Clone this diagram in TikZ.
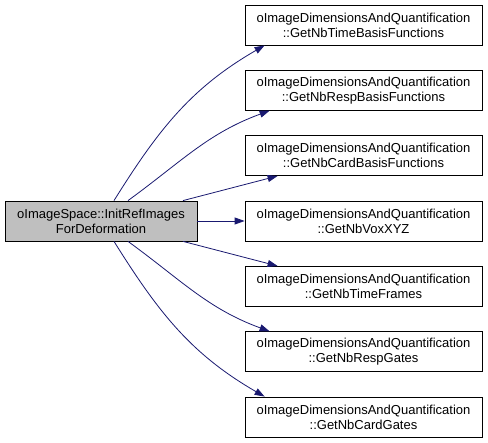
\documentclass[tikz,border=0pt]{standalone}
\usepackage{fontspec}
\setmainfont{Liberation Sans}
\usetikzlibrary{arrows.meta}
\definecolor{edgeblue}{HTML}{191970}
\begin{document}
\begin{tikzpicture}[x=1pt,y=1pt,
    fnbox/.style={draw,line width=0.8pt,minimum width=237pt,minimum height=40pt,
      inner sep=0pt,align=center,font=\fontsize{13}{15}\selectfont},
    call/.style={draw=edgeblue,line width=0.8pt,-{Triangle[length=10pt,width=7pt]}}]
  \useasboundingbox (0,0) rectangle (488,443);
  \node[fnbox,fill=gray!50,minimum width=192pt] (init) at (101,222)
    {oImageSpace::InitRefImages\\ForDeformation};
  \foreach \i/\fn/\y in {1/GetNbTimeBasisFunctions/418,2/GetNbRespBasisFunctions/352.7,
      3/GetNbCardBasisFunctions/287.4,4/GetNbVoxXYZ/222,5/GetNbTimeFrames/156.6,
      6/GetNbRespGates/91.3,7/GetNbCardGates/26}
    \node[fnbox] (t\i) at (363.5,\y) {oImageDimensionsAndQuantification\\::\fn};
  % calls
  \draw[call] ([xshift=13pt]init.north) to[out=58,in=210] ([xshift=20pt]t1.south west);
  \draw[call] ([xshift=27pt]init.north) to[out=36,in=200] ([xshift=25pt]t2.south west);
  \draw[call] ([xshift=82pt]init.north) -- ([xshift=33pt]t3.south west);
  \draw[call] (init.east) -- (t4.west);
  \draw[call] ([xshift=82pt]init.south) -- ([xshift=33pt]t5.north west);
  \draw[call] ([xshift=27pt]init.south) to[out=-36,in=160] ([xshift=25pt]t6.north west);
  \draw[call] ([xshift=13pt]init.south) to[out=-58,in=150] ([xshift=20pt]t7.north west);
\end{tikzpicture}
\end{document}
